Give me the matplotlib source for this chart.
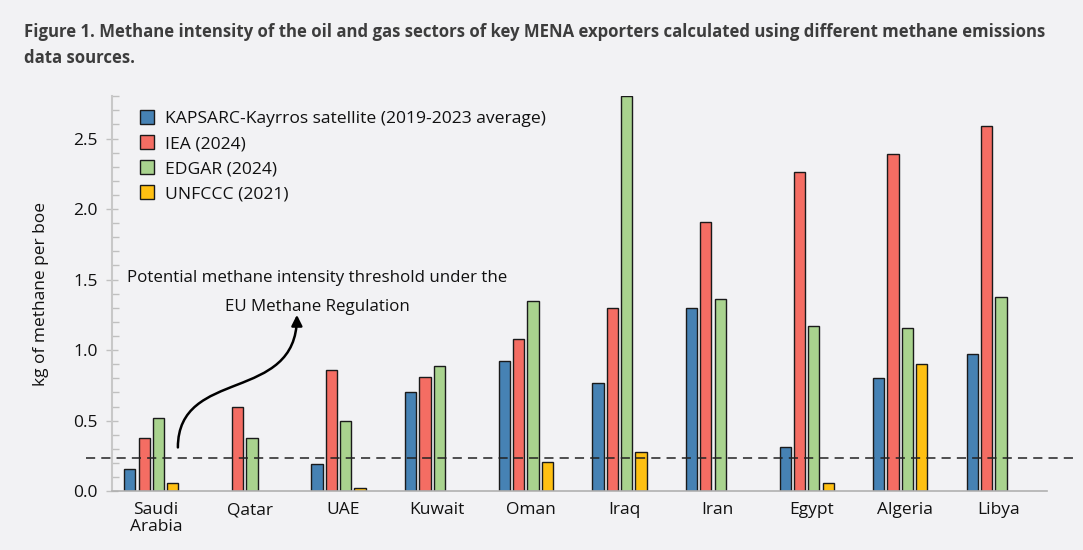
import numpy as np
import matplotlib.pyplot as plt
from matplotlib.patches import FancyArrowPatch
from matplotlib.path import Path
from matplotlib.ticker import MultipleLocator

plt.rcParams['font.family'] = ['Open Sans', 'DejaVu Sans']

countries = ['Saudi\nArabia', 'Qatar', 'UAE', 'Kuwait', 'Oman', 'Iraq', 'Iran', 'Egypt', 'Algeria', 'Libya']
kapsarc = [0.16, np.nan, 0.19, 0.70, 0.925, 0.77, 1.30, 0.31, 0.80, 0.97]
iea = [0.38, 0.60, 0.86, 0.81, 1.08, 1.30, 1.91, 2.26, 2.39, 2.59]
edgar = [0.52, 0.38, 0.50, 0.89, 1.345, 2.80, 1.36, 1.17, 1.16, 1.38]
unfccc = [0.06, np.nan, 0.02, np.nan, 0.21, 0.28, np.nan, 0.06, 0.90, np.nan]
threshold = 0.235

series = [
    ('KAPSARC-Kayrros satellite (2019-2023 average)', kapsarc, '#4682b4'),
    ('IEA (2024)', iea, '#f46d63'),
    ('EDGAR (2024)', edgar, '#a9d38e'),
    ('UNFCCC (2021)', unfccc, '#ffc012'),
]

bg = '#f2f2f4'
fig = plt.figure(figsize=(10.83, 5.5), dpi=100, facecolor=bg)
ax = fig.add_axes([0.1034, 0.107, 0.8636, 0.718], facecolor=bg)

x = np.arange(len(countries))
w = 0.12
step = 0.153
for i, (name, vals, col) in enumerate(series):
    ax.bar(x + (i - 1.5) * step, vals, width=w, color=col, edgecolor='#1a1a1a',
           linewidth=1.0, label=name, zorder=2)

ax.set_xlim(-0.42, 9.57)
ax.set_ylim(0, 2.8)
ax.set_xticks(x + 0.05)
ax.set_xticklabels(countries, fontsize=12.5, color='#111111', linespacing=1.05)
ax.tick_params(axis='x', length=0, pad=8)
ax.yaxis.set_major_locator(MultipleLocator(0.5))
ax.yaxis.set_minor_locator(MultipleLocator(0.1))
ax.tick_params(axis='y', which='major', direction='inout', length=8, width=1,
               color='#c0c0c0', labelsize=12.5, labelcolor='#111111', pad=6)
ax.tick_params(axis='y', which='minor', direction='in', length=5, width=1, color='#c0c0c0')
ax.set_ylabel('kg of methane per boe', fontsize=12.5, color='#111111', labelpad=18)
for s in ['top', 'right']:
    ax.spines[s].set_visible(False)
ax.spines['left'].set_color('#c8c8c8')
ax.spines['bottom'].set_color('#b0b0b0')
ax.spines['left'].set_linewidth(1.5)
ax.spines['bottom'].set_linewidth(1.2)

# threshold line, extends past both ends of the axes
ax.plot([-0.7, 9.87], [threshold, threshold], ls=(0, (6, 4)), color='#222222',
        lw=1.1, clip_on=False, zorder=3)

ax.text(1.77, 1.41, 'Potential methane intensity threshold under the\nEU Methane Regulation',
        ha='center', va='center', fontsize=12.2, color='#111111', linespacing=2.1)

p = Path([(0.284, 0.31), (0.284, 0.88), (1.555, 0.62), (1.555, 1.25)],
         [Path.MOVETO, Path.CURVE4, Path.CURVE4, Path.CURVE4])
ax.add_patch(FancyArrowPatch(path=p, arrowstyle='-|>', mutation_scale=16,
                             color='black', lw=1.8, zorder=4))

leg = ax.legend(loc='upper left', bbox_to_anchor=(0.017, 0.995), frameon=False,
                fontsize=12.6, handlelength=0.8, handleheight=0.8, handletextpad=0.6,
                labelspacing=0.47, borderaxespad=0.3)
for t in leg.get_texts():
    t.set_color('#111111')

fig.text(0.022, 0.918, 'Figure 1. Methane intensity of the oil and gas sectors of key MENA exporters '
         'calculated using different methane emissions\ndata sources.',
         ha='left', va='center', fontsize=12.05, fontweight='bold', color='#3d3d3d',
         linespacing=1.55)

fig.savefig('out.png', dpi=100, facecolor=bg)
